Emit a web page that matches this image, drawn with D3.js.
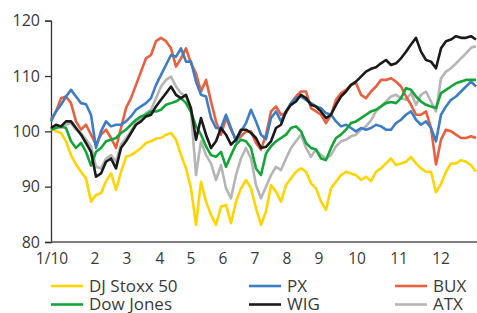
<!DOCTYPE html>
<html>
  <head>
    <meta charset="UTF-8" />
    <script src="https://d3js.org/d3.v7.min.js"></script>
    <title>Aktieindeks 2010</title>
    <style>
      body { margin: 0; background: #fff; }
      text { font-family: "Open Sans", sans-serif; fill: #3a3a3a; }
    </style>
  </head>

  <body>
    <div id="chart"></div>
    <script type="text/javascript">
      // maaned-etiketter og deres placering (i punkt-index)
      const monthLabels = ["1/10", "2", "3", "4", "5", "6", "7", "8", "9", "10", "11", "12"];
      const monthPos = [0.2, 8.8, 15.2, 21.8, 28, 34.4, 40.8, 47.2, 53.6, 61.2, 69.6, 78];
      const yTicks = [80, 90, 100, 110, 120];

      // serier (index = 100)
      const stoxx = [100.5, 100, 99.7, 98.2, 95.7, 94, 92.7, 91.5, 87.3, 88.5, 88.8, 91, 92.4, 89.4, 92.7, 95.4, 95.7, 96.3, 97, 97.9, 98.2, 98.7,
        98.8, 99.4, 99.7, 98.5, 95.7, 93.3, 89.7, 83.1, 90.9, 87.3, 84.9, 83.1, 86.4, 86.7, 83.4, 87.3, 89.7, 91.2, 89.7, 86.1, 83.1, 85.5,
        90.3, 89.1, 87.3, 90.3, 91.5, 92.7, 93.3, 92.7, 90.6, 89.7, 87.3, 85.8, 89.7, 90.9, 92.1, 92.7, 92.4, 92.1, 91.2, 91.8, 91,
        92.7, 93.3, 94.2, 95.1, 93.9, 94.2, 94.5, 95.4, 94.2, 93.3, 92.7, 92.7, 89, 90.5, 92.7, 94.2, 94.2, 94.8, 94.5, 93.9, 92.7];
      const px = [101.8, 103.6, 104.8, 106.3, 107.5, 106.3, 105.1, 104.9, 103, 97, 100, 101.8, 100.9, 101.2, 101.2, 101.8, 102.7, 103.9, 104.5, 105.1, 106, 108.4,
        110.2, 112, 113.8, 113.5, 115, 112.6, 112.6, 109, 106.6, 106.3, 102.4, 100.6, 100.6, 103, 100.6, 98.2, 100, 101.5, 103.9, 101.8, 99.4, 98.6,
        102.4, 103.6, 101.8, 103.6, 105.1, 106, 106.3, 105.7, 105.1, 104.5, 104.2, 103.3, 103, 101.8, 100.9, 101.2, 100.6, 100, 100.6, 100.3, 100.6,
        101.2, 100.9, 100.3, 100.3, 101.5, 102.1, 103, 103.6, 102.1, 101.2, 101.8, 100.6, 98.2, 103, 104.5, 105.7, 106.3, 107.2, 108.1, 109, 108.1];
      const bux = [102.1, 103.6, 106, 106.3, 105.1, 101.8, 100.3, 101.2, 99.4, 97.6, 99.4, 100.3, 98.8, 97, 100.6, 104.2, 106, 108.4, 110.8, 113.2, 113.8, 116.3,
        116.9, 116.3, 115, 111.7, 113.2, 115, 112.3, 110.5, 107.2, 109.3, 105.4, 101.8, 99.4, 102.4, 100.3, 98.5, 99.1, 100, 100, 97.9, 96.7, 99.4,
        103.6, 104.5, 103, 103.3, 105.1, 106.3, 107.2, 107.2, 104.2, 103.6, 103, 101.5, 103, 105.7, 106.9, 107.5, 108.4, 108.7, 106.6, 106, 107.2,
        108.1, 109.3, 109.3, 109.6, 109, 108.1, 106.3, 104.8, 103, 103, 103.6, 100.6, 94, 98.5, 100.3, 100, 99.4, 98.8, 98.8, 99.1, 98.8];
      const dow = [100.3, 100.6, 100.9, 100.6, 98.2, 97, 97.9, 96.3, 93.8, 96.3, 97, 98.2, 98.5, 98.8, 99.7, 100.3, 101.2, 102.1, 102.7, 103, 103.6, 103.6,
        103.9, 104.8, 105.1, 105.4, 106, 105.1, 103.5, 100.9, 99.4, 97.3, 95.7, 95.4, 96.3, 93.6, 95.7, 97.6, 98.5, 98.2, 97, 93.3, 92.1, 96,
        97.3, 98.2, 98.8, 99.4, 100.6, 100.9, 100, 97.9, 97, 96.7, 95.1, 94.8, 97, 98.8, 99.4, 100.3, 101.5, 101.8, 102.4, 103, 103.6,
        103.9, 104.5, 105.1, 105.3, 105.1, 106, 107.8, 107.5, 106.3, 105.4, 104.8, 104.5, 104.2, 106.9, 107.5, 108.1, 108.7, 109, 109.3, 109.3, 109.3];
      const wig = [100.6, 101.2, 100.9, 101.8, 101.8, 100.6, 99.4, 97.9, 96.3, 91.8, 92.4, 94.5, 95.1, 93.3, 97, 98.2, 99.7, 101.2, 101.8, 102.7, 103, 104.5,
        105.7, 106.9, 108.1, 106.6, 106, 106.6, 104.2, 98.5, 102.4, 99.4, 97, 98.2, 100.6, 99.4, 97.6, 98.5, 100.3, 100.3, 99.7, 98.8, 97, 97.2,
        98.2, 100.6, 101.2, 103.6, 104.8, 105.4, 106.6, 106, 104.8, 104.5, 103.6, 102.4, 103, 104.8, 106.3, 107.2, 108.4, 109, 109.9, 110.8, 111.3,
        111.6, 112.3, 112.9, 112, 112.3, 113.2, 114.4, 115.7, 116.9, 114.4, 112.9, 112.6, 111.4, 115, 116.3, 116.6, 117.2, 116.9, 116.9, 117.2, 116.6];
      const atx = [100.3, 101, 100.6, 101.2, 101.5, 100.3, 99.7, 98.5, 97.3, 93.6, 93.3, 95.1, 95.7, 94.5, 97.6, 98.8, 100, 101.5, 102.4, 103.3, 103.9, 106,
        108.1, 109.3, 109.9, 108.1, 106.9, 106.3, 103.6, 92.1, 98.2, 95.7, 94.2, 91.2, 93.9, 89.7, 87.9, 92.1, 95.1, 97, 95.1, 90.3, 87.9, 90,
        92.1, 93.6, 93, 95.1, 97, 98.2, 99.4, 97, 95.4, 96.7, 95.7, 95.1, 95.7, 97.3, 98.2, 98.5, 99.1, 99.4, 100.3, 100.9, 102,
        103.6, 104.5, 105.4, 106.3, 106.6, 106, 105.7, 106.9, 104.8, 106.6, 107.2, 105.4, 103.6, 109.6, 110.8, 111.4, 112.3, 113.2, 114.1, 115.1, 115.4];

      const seriesNames = ["DJ Stoxx 50", "PX", "BUX", "Dow Jones", "WIG", "ATX"];
      const seriesValues = [stoxx, px, bux, dow, wig, atx];
      const seriesColors = ["#ffd400", "#3c7ec6", "#e8603e", "#13a538", "#1a1a1a", "#b5b5b5"];
      const drawOrder = [5, 0, 2, 1, 3, 4]; // graa nederst, sort oeverst

      const w = 477;
      const h = 313;

      const svg = d3.select("#chart").append("svg").attr("width", w).attr("height", h);

      const xScale = d3.scaleLinear().domain([0, stoxx.length - 1]).range([51, 476]);
      const yScale = d3.scaleLinear().domain([80, 120]).range([242, 20.7]);

      // y-akse
      const yAxis = svg
        .append("g")
        .attr("transform", "translate(51,0)")
        .call(d3.axisLeft(yScale).tickValues(yTicks).tickSize(6).tickPadding(5));
      yAxis.select(".domain").attr("stroke", "#333").attr("stroke-width", 1.3);
      yAxis.selectAll(".tick line").attr("stroke", "#333").attr("stroke-width", 1.3);
      yAxis.selectAll("text").style("font-size", "16px").attr("fill", "#3a3a3a");

      // x-akse (ingen ticks, kun etiketter)
      svg
        .append("line")
        .attr("x1", 51)
        .attr("x2", 477)
        .attr("y1", yScale(80))
        .attr("y2", yScale(80))
        .attr("stroke", "#555")
        .attr("stroke-width", 1.5);

      svg
        .selectAll(".mlabel")
        .data(monthLabels)
        .enter()
        .append("text")
        .attr("class", "mlabel")
        .attr("x", function (d, i) {
          return xScale(monthPos[i]);
        })
        .attr("y", yScale(80) + 21.5)
        .attr("text-anchor", "middle")
        .style("font-size", "15.5px")
        .text(function (d) {
          return d;
        });

      // linjer
      const line = d3
        .line()
        .x(function (d, i) {
          return xScale(i);
        })
        .y(function (d) {
          return yScale(d);
        });

      svg
        .selectAll(".serie")
        .data(drawOrder)
        .enter()
        .append("path")
        .attr("class", "serie")
        .attr("fill", "none")
        .attr("stroke", function (k) {
          return seriesColors[k];
        })
        .attr("stroke-width", 2.6)
        .attr("stroke-linejoin", "round")
        .attr("d", function (k) {
          return line(seriesValues[k]);
        });

      // legende, 3 kolonner x 2 raekker
      const legX = [51, 249, 395];
      const legY = [286, 304.5];
      const leg = svg
        .selectAll(".leg")
        .data(seriesNames)
        .enter()
        .append("g")
        .attr("class", "leg")
        .attr("transform", function (d, i) {
          return "translate(" + legX[i % 3] + "," + legY[Math.floor(i / 3)] + ")";
        });
      leg
        .append("line")
        .attr("x1", 0)
        .attr("x2", 32)
        .attr("stroke", function (d, i) {
          return seriesColors[i];
        })
        .attr("stroke-width", 2.6);
      leg
        .append("text")
        .attr("x", 38)
        .attr("y", 5.5)
        .style("font-size", "17px")
        .text(function (d) {
          return d;
        });
    </script>
  </body>
</html>
